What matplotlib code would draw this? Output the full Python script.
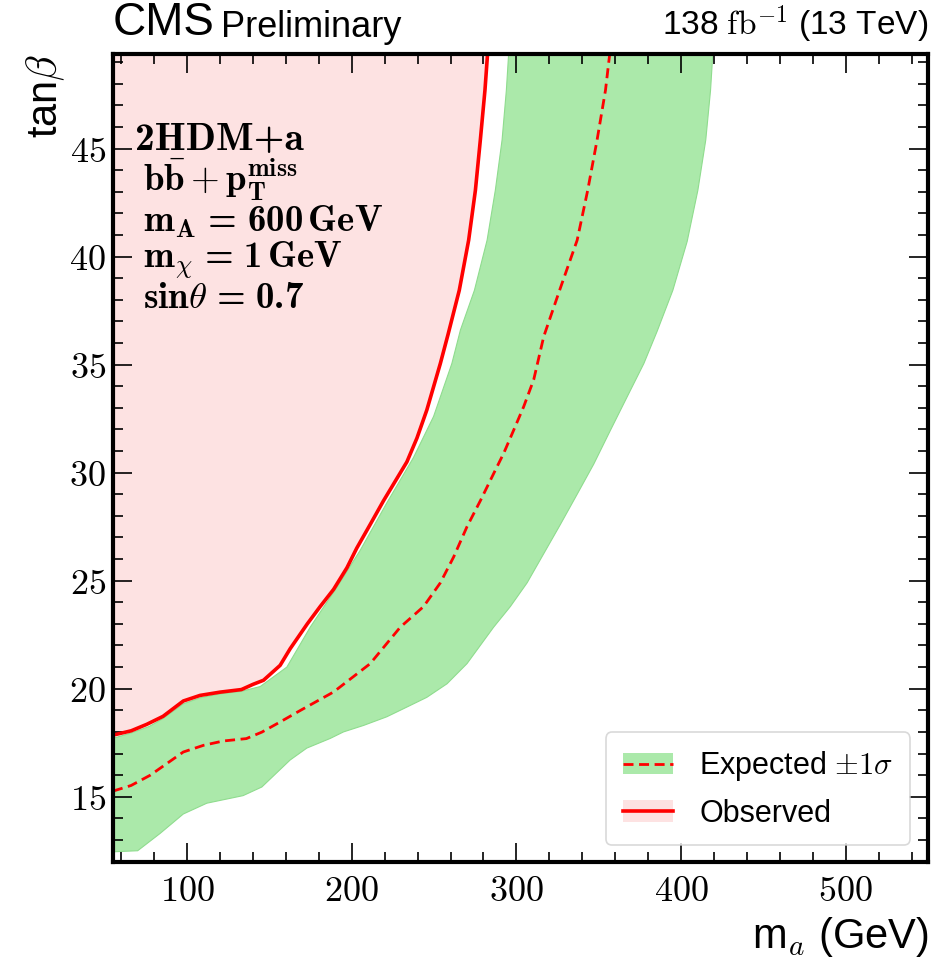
import numpy as np
import matplotlib
matplotlib.use('Agg')
import matplotlib.pyplot as plt
from matplotlib.patches import Patch
from matplotlib.lines import Line2D
from matplotlib.ticker import MultipleLocator

# observed exclusion contour (m_a in GeV, tan beta)
obs_ma = [55, 66, 75.5, 85.4, 97.7, 107.9, 120, 133, 140, 146.4, 156.5, 162.6,
          173, 180.8, 189, 197.1, 203, 211.2, 219.3, 233.5, 239.6, 245.6, 253.8,
          258.5, 265.3, 271, 275.1, 278.1, 280.9, 282.5]
obs_tb = [17.85, 18.05, 18.35, 18.72, 19.43, 19.69, 19.84, 19.96, 20.2, 20.39, 21.08, 21.85,
          23.0, 23.8, 24.6, 25.6, 26.5, 27.6, 28.7, 30.5, 31.6, 32.9, 35.05,
          36.4, 38.44, 40.76, 43.07, 45.4, 47.7, 49.4]

# median expected contour
exp_ma = [55, 66, 77.5, 87.6, 97.7, 110, 122, 136, 145.4, 156.5, 168.7, 189,
          211.2, 229.5, 243.6, 253.8, 261.9, 270, 278.1, 286.2, 292.3, 298.3,
          304.4, 310.5, 316.6, 326.5, 336.9, 343.3, 349, 354.1, 356.7]
exp_tb = [15.26, 15.52, 15.99, 16.53, 17.07, 17.38, 17.58, 17.69, 17.99, 18.46, 18.99, 19.85,
          21.16, 22.85, 23.8, 24.9, 26.1, 27.5, 28.7, 29.96, 30.9, 31.96,
          33.05, 34.3, 36.3, 38.5, 40.76, 43.07, 45.4, 47.7, 49.4]

# +1 sigma edge of the expected band (right side)
up_ma = [55, 70, 83.6, 97.7, 112, 134, 145.4, 162.6, 172.7, 187, 195, 207.2,
         221.3, 233.5, 245.6, 257.9, 270, 286.2, 296.3, 306.5, 316.6, 326.7,
         336.9, 347, 357.1, 367.2, 377.4, 385.5, 395, 403.7, 410.2, 415, 417.9, 419.3]
up_tb = [12.45, 12.5, 13.3, 14.2, 14.7, 15.05, 15.45, 16.7, 17.25, 17.7, 18.0, 18.3,
         18.7, 19.15, 19.6, 20.23, 21.16, 22.85, 23.8, 24.9, 26.25, 27.6,
         29.0, 30.4, 31.96, 33.5, 35.05, 36.55, 38.44, 40.7, 43.07, 45.4, 47.7, 49.4]

# -1 sigma edge of the expected band (left side)
dn_ma = [55, 66, 77, 85, 97.7, 108, 120, 133, 144.4, 160.6, 174.8, 191,
         205.1, 213.2, 221.3, 237.5, 243.6, 249.7, 260.8, 266, 274.5, 282.2,
         287.2, 291.3, 293.9, 295.3]
dn_tb = [17.7, 17.95, 18.25, 18.6, 19.3, 19.58, 19.76, 19.88, 20.1, 21.0, 22.85, 24.7,
         26.4, 27.5, 28.6, 30.7, 31.65, 32.6, 35.05, 36.6, 38.44, 40.76,
         43.07, 45.4, 47.7, 49.4]

plt.rcParams['mathtext.fontset'] = 'cm'
plt.rcParams['font.family'] = ['Liberation Sans', 'DejaVu Sans']

green = '#abe9aa'
pink = '#fde2e2'
dash = (0, (3.6, 2.0))

fig = plt.figure(figsize=(9.47, 9.61), dpi=100)
ax = fig.add_axes([0.1193, 0.1035, 0.8607, 0.8408])

ax.fill_between(obs_ma, obs_tb, 60, color=pink, lw=0)
band_x = np.concatenate([up_ma, dn_ma[::-1]])
band_y = np.concatenate([up_tb, dn_tb[::-1]])
ax.fill(band_x, band_y, facecolor=green, edgecolor='#8fdc8e', lw=0.8)
ax.plot(exp_ma, exp_tb, color='red', ls=dash, lw=2.0)
ax.plot(obs_ma, obs_tb, color='red', lw=2.6, solid_joinstyle='round')

ax.set_xlim(55, 550)
ax.set_ylim(12, 49.4)

ax.xaxis.set_major_locator(MultipleLocator(100))
ax.xaxis.set_minor_locator(MultipleLocator(20))
ax.yaxis.set_major_locator(MultipleLocator(5))
ax.yaxis.set_minor_locator(MultipleLocator(1))
ax.tick_params(which='both', direction='in', top=True, right=True, width=1.2)
ax.tick_params(which='major', length=14)
ax.tick_params(which='minor', length=7.5)
ax.tick_params(axis='x', which='major', labelsize=26, pad=9)
ax.tick_params(axis='y', which='major', labelsize=26, pad=5)
ax.xaxis.set_major_formatter(plt.FuncFormatter(lambda v, p: '$%d$' % v))
ax.yaxis.set_major_formatter(plt.FuncFormatter(lambda v, p: '$%d$' % v))
for s in ax.spines.values():
    s.set_linewidth(3)

ax.set_xlabel(r'm$_a$ (GeV)', fontsize=30, loc='right', labelpad=4)
ax.set_ylabel(r'tan$\beta$', fontsize=30, loc='top', labelpad=2)

# model description, bold Computer Modern
ax.text(0.027, 0.8806, '2HDM+a', transform=ax.transAxes, family='cmb10',
        fontsize=28.5, va='baseline', ha='left')
ax.text(0.0368, 0.829, r'$\mathbf{b\bar{b}+p_T^{miss}}$', transform=ax.transAxes,
        fontsize=26.5, va='baseline', ha='left')
ax.text(0.0368, 0.7795, r'$\mathbf{m_A}\ $=$\ $600$\,$GeV', transform=ax.transAxes,
        family='cmb10', fontsize=26.5, va='baseline', ha='left')
ax.text(0.0368, 0.7345, r'$\mathbf{m}_\chi\ $=$\ $1$\,$GeV', transform=ax.transAxes,
        family='cmb10', fontsize=26.5, va='baseline', ha='left')
ax.text(0.0368, 0.6855, r'sin$\theta\ $=$\ $0.7', transform=ax.transAxes,
        family='cmb10', fontsize=26.5, va='baseline', ha='left')

ax.text(0.0, 1.01, 'CMS', transform=ax.transAxes, fontsize=33,
        ha='left', va='bottom')
ax.text(0.133, 1.01, 'Preliminary', transform=ax.transAxes, fontsize=26,
        ha='left', va='bottom')
ax.text(1.0, 1.01, r'138 $\mathrm{fb}^{-1}$ (13 TeV)', transform=ax.transAxes, fontsize=24,
        ha='right', va='bottom')

h_exp = (Patch(facecolor=green, edgecolor='none'),
         Line2D([], [], color='red', ls=dash, lw=2.0))
h_obs = (Patch(facecolor=pink, edgecolor='none'),
         Line2D([], [], color='red', lw=2.6))
leg = ax.legend([h_exp, h_obs], [r'Expected $\pm1\sigma$', 'Observed'],
                loc='lower right', bbox_to_anchor=(0.978, 0.02), borderaxespad=0,
                fontsize=22, frameon=True, fancybox=True, handlelength=1.65,
                borderpad=0.55, labelspacing=0.5, handletextpad=0.85)
leg.get_frame().set_edgecolor('#d0d0d0')
leg.get_frame().set_linewidth(1.2)

fig.savefig('out.png', dpi=100)
